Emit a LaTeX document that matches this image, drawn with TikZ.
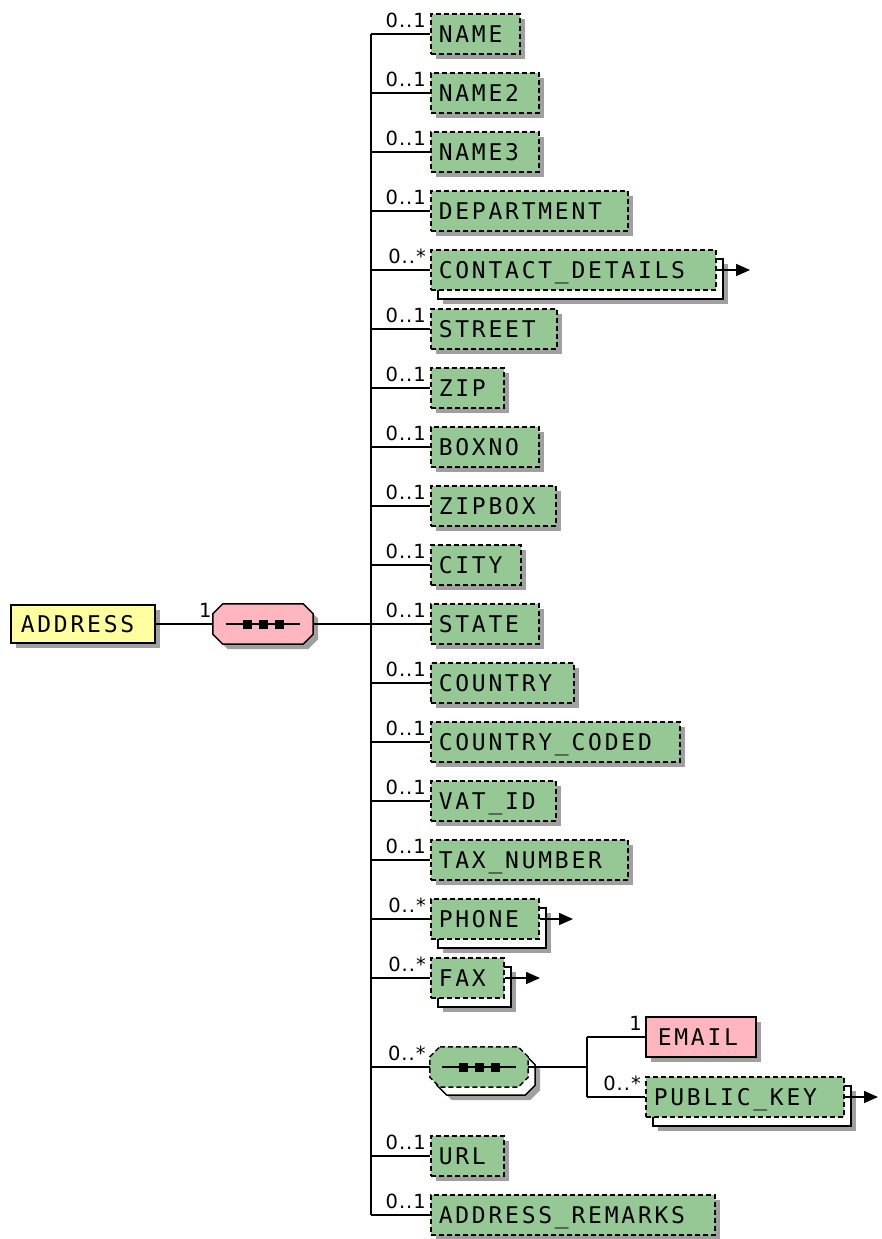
\documentclass[tikz,border=0pt]{standalone}
\usepackage{fontspec}
\newfontfamily\boxfont[LetterSpace=12]{DejaVu Sans Mono}
\newfontfamily\labfont[LetterSpace=5]{DejaVu Sans}
\usetikzlibrary{shadows,arrows.meta}
\definecolor{elgreen}{RGB}{150,200,150}
\definecolor{elyellow}{RGB}{255,255,160}
\definecolor{elpink}{RGB}{255,182,190}
\definecolor{shgray}{RGB}{160,160,160}
\newcommand\lbx[2]{\makebox[#1pt][l]{#2}}
\newcommand\octo[3]{\path[#1] ([xshift=#3]#2.north west) -- ([xshift=-#3]#2.north east) -- ([yshift=-#3]#2.north east) -- ([yshift=#3]#2.south east) -- ([xshift=-#3]#2.south east) -- ([xshift=#3]#2.south west) -- ([yshift=#3]#2.south west) -- ([yshift=-#3]#2.north west) -- cycle;}
\newcommand\seqdots[1]{%
  \draw[line width=1.4pt] ([xshift=-37pt]#1.center) -- ([xshift=37pt]#1.center);
  \foreach \dx in {-16,0,16} {\fill ([shift={(\dx pt-4.5pt,-4.5pt)}]#1.center) rectangle ([shift={(\dx pt+4.5pt,4.5pt)}]#1.center);}}
\tikzset{
  conn/.style={draw=black, line width=1.5pt},
  elbase/.style={anchor=west, minimum height=40pt, inner xsep=8pt, inner ysep=0pt,
    text height=16.8pt, text depth=0pt, font={\boxfont\fontsize{23}{23}\selectfont}, line width=1.5pt},
  dsh/.style={dash pattern=on 5pt off 3pt},
  shd/.style={general shadow={fill=shgray, draw=none, shadow xshift=5pt, shadow yshift=-5pt}},
  opt/.style={elbase, draw=black, dsh, fill=elgreen, shd},
  req/.style={elbase, draw=black, solid, fill=elpink, shd},
  stk/.style={elbase, draw=black, dsh, fill=elgreen,
    general shadow={fill=shgray, draw=none, shadow xshift=12pt, shadow yshift=-14pt},
    general shadow={fill=white, draw=black, solid, line width=1.5pt, shadow xshift=7pt, shadow yshift=-9pt}},
  lab/.style={anchor=base east, inner sep=0pt, font={\labfont\fontsize{19.5}{19.5}\selectfont}},
  tip/.style={-{Triangle[length=14pt,width=12pt]}},
  hid/.style={draw=none, fill=none, inner sep=0pt, minimum height=40pt}
}
\begin{document}
\begin{tikzpicture}[x=1pt, y=-1pt]
\useasboundingbox (0,0) rectangle (881,1239);
% root
\node[elbase, draw=black, solid, fill=elyellow, shd, minimum height=38pt, inner xsep=10pt] (addr) at (10,624) {\lbx{124}{ADDRESS}};
% main sequence
\node[hid, minimum width=100pt] (s1) at (263,624) {};
\octo{fill=shgray, transform canvas={shift={(5pt,-5pt)}}}{s1}{10pt}
\octo{fill=elpink, draw=black, line width=1.5pt}{s1}{10pt}
\seqdots{s1}
\node[lab] (l0) at ([shift={(-1pt,7pt)}]s1.west) {1};
\coordinate (t) at (371,624);
% children
\node[opt] (n1) at (430,34) {\lbx{73}{NAME}};
\node[opt] (n2) at (430,93) {\lbx{92}{NAME2}};
\node[opt] (n3) at (430,152) {\lbx{92}{NAME3}};
\node[opt] (n4) at (430,211) {\lbx{181}{DEPARTMENT}};
\node[stk] (n5) at (430,270) {\lbx{269}{CONTACT\_DETAILS}};
\node[opt] (n6) at (430,329) {\lbx{110}{STREET}};
\node[opt] (n7) at (430,388) {\lbx{57}{ZIP}};
\node[opt] (n8) at (430,447) {\lbx{92}{BOXNO}};
\node[opt] (n9) at (430,506) {\lbx{109}{ZIPBOX}};
\node[opt] (n10) at (430,565) {\lbx{74}{CITY}};
\node[opt] (n11) at (430,624) {\lbx{92}{STATE}};
\node[opt] (n12) at (430,683) {\lbx{127}{COUNTRY}};
\node[opt] (n13) at (430,742) {\lbx{233}{COUNTRY\_CODED}};
\node[opt] (n14) at (430,801) {\lbx{109}{VAT\_ID}};
\node[opt] (n15) at (430,860) {\lbx{181}{TAX\_NUMBER}};
\node[stk] (n16) at (430,919) {\lbx{92}{PHONE}};
\node[stk] (n17) at (430,978) {\lbx{57}{FAX}};
\node[opt] (n19) at (430,1156) {\lbx{57}{URL}};
\node[opt] (n20) at (430,1215) {\lbx{268}{ADDRESS\_REMARKS}};
% inner sequence
\node[hid, minimum width=98pt] (s2) at (479,1067) {};
\octo{fill=shgray, transform canvas={shift={(12pt,-13pt)}}}{s2}{10pt}
\octo{fill=white, draw=black, line width=1.5pt, transform canvas={shift={(7pt,-8pt)}}}{s2}{10pt}
\octo{fill=elgreen, draw=black, line width=1.5pt, dsh}{s2}{10pt}
\seqdots{s2}
\node[req, inner xsep=12pt] (em) at (645,1037) {\lbx{86}{EMAIL}};
\node[stk] (pk) at (645,1097) {\lbx{182}{PUBLIC\_KEY}};
% connectors
\draw[conn] (addr.east) -- (s1.west);
\draw[conn] (s1.east) -- (t);
\draw[conn] (t |- n1.west) -- (t |- n20.west);
\foreach \n in {n1,n2,n3,n4,n5,n6,n7,n8,n9,n10,n11,n12,n13,n14,n15,n16,n17,s2,n19,n20}
  \draw[conn] (t |- \n.west) -- (\n.west);
\coordinate (j2) at (587,1067);
\draw[conn] (s2.east) -- (j2);
\draw[conn] (j2 |- em.west) -- (j2 |- pk.west);
\draw[conn] (j2 |- em.west) -- (em.west);
\draw[conn] (j2 |- pk.west) -- (pk.west);
% arrows
\coordinate (a5) at (750,270);
\coordinate (a16) at (573,919);
\coordinate (a17) at (540,978);
\coordinate (apk) at (878,1097);
\draw[conn, tip] (n5.east) -- (a5);
\draw[conn, tip] (n16.east) -- (a16);
\draw[conn, tip] (n17.east) -- (a17);
\draw[conn, tip] (pk.east) -- (apk);
% labels
\foreach \n in {n1,n2,n3,n4,n6,n7,n8,n9,n10,n11,n12,n13,n14,n15,n19,n20}
  \node[lab] at ([shift={(-4pt,6.5pt)}]\n.west) {0..1};
\foreach \n in {n5,n16,n17,s2,pk}
  \node[lab] at ([shift={(-4pt,6.5pt)}]\n.west) {0..*};
\node[lab] at ([shift={(-3pt,6.5pt)}]em.west) {1};
\end{tikzpicture}
\end{document}
